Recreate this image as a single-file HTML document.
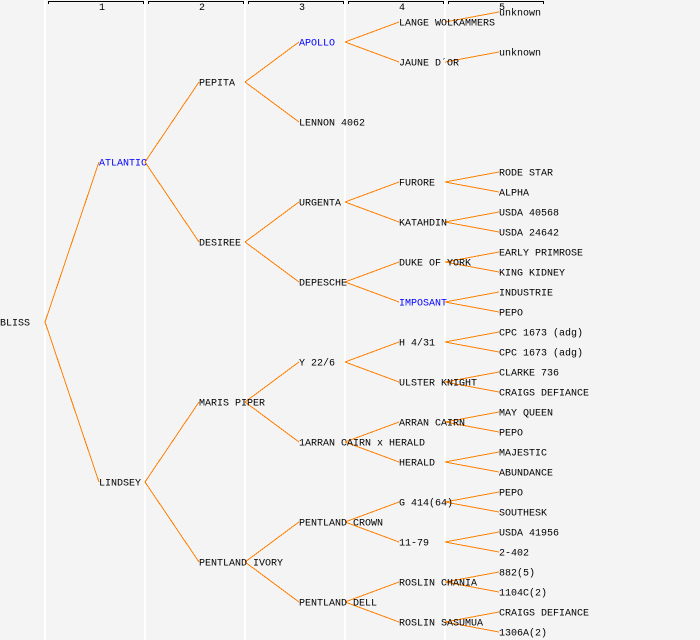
<!DOCTYPE html>
<html><head><meta charset="utf-8"><style>
html,body{margin:0;padding:0;background:#f4f4f4;}
svg{display:block;}
text{font-family:"Liberation Mono","DejaVu Sans Mono",monospace;font-size:10px;fill:#000;}
.b{fill:#0000ff;}
.n{font-size:10px;}
</style></head><body>
<svg width="700" height="640" xmlns="http://www.w3.org/2000/svg">
<rect width="700" height="640" fill="#f4f4f4"/>
<g stroke="#ffffff" stroke-width="2">
<line x1="45" y1="0" x2="45" y2="640"/><line x1="145" y1="0" x2="145" y2="640"/><line x1="245" y1="0" x2="245" y2="640"/><line x1="345" y1="0" x2="345" y2="640"/><line x1="445" y1="0" x2="445" y2="640"/>
</g>
<g stroke="#000" stroke-width="1" fill="none">
<path d="M48.5 4V1.5H143.5V4"/><path d="M148.5 4V1.5H243.5V4"/><path d="M248.5 4V1.5H343.5V4"/><path d="M348.5 4V1.5H443.5V4"/><path d="M448.5 4V1.5H543.5V4"/>
</g>
<text class="n" x="99" y="10">1</text><text class="n" x="199" y="10">2</text><text class="n" x="299" y="10">3</text><text class="n" x="399" y="10">4</text><text class="n" x="499" y="10">5</text>
<g stroke="#ff8000" stroke-width="1" fill="none" shape-rendering="crispEdges">
<path d="M45 322L99 162M45 322L99 482"/>
<path d="M145 162L199 82M145 162L199 242M145 482L199 402M145 482L199 562"/>
<path d="M245 82L299 42M245 82L299 122M245 242L299 202M245 242L299 282M245 402L299 362M245 402L299 442M245 562L299 522M245 562L299 602"/>
<path d="M345 42L399 22M345 42L399 62M345 202L399 182M345 202L399 222M345 282L399 262M345 282L399 302M345 362L399 342M345 362L399 382M345 442L399 422M345 442L399 462M345 522L399 502M345 522L399 542M345 602L399 582M345 602L399 622"/>
<path d="M445 22L499 12M445 62L499 52M445 182L499 172M445 182L499 192M445 222L499 212M445 222L499 232M445 262L499 252M445 262L499 272M445 302L499 292M445 302L499 312M445 342L499 332M445 342L499 352M445 382L499 372M445 382L499 392M445 422L499 412M445 422L499 432M445 462L499 452M445 462L499 472M445 502L499 492M445 502L499 512M445 542L499 532M445 542L499 552M445 582L499 572M445 582L499 592M445 622L499 612M445 622L499 632"/>
</g>
<g transform="translate(0,-0.5)">
<text x="0" y="326">BLISS</text>
<text class="b" x="99" y="166">ATLANTIC</text><text x="99" y="486">LINDSEY</text>
<text x="199" y="86">PEPITA</text><text x="199" y="246">DESIREE</text><text x="199" y="406">MARIS PIPER</text><text x="199" y="566">PENTLAND IVORY</text>
<text class="b" x="299" y="46">APOLLO</text><text x="299" y="126">LENNON 4062</text><text x="299" y="206">URGENTA</text><text x="299" y="286">DEPESCHE</text><text x="299" y="366">Y 22/6</text><text x="299" y="446">1ARRAN CAIRN x HERALD</text><text x="299" y="526">PENTLAND CROWN</text><text x="299" y="606">PENTLAND DELL</text>
<text x="399" y="26">LANGE WOLKAMMERS</text><text x="399" y="66">JAUNE D´OR</text><text x="399" y="186">FURORE</text><text x="399" y="226">KATAHDIN</text><text x="399" y="266">DUKE OF YORK</text><text class="b" x="399" y="306">IMPOSANT</text><text x="399" y="346">H 4/31</text><text x="399" y="386">ULSTER KNIGHT</text><text x="399" y="426">ARRAN CAIRN</text><text x="399" y="466">HERALD</text><text x="399" y="506">G 414(64)</text><text x="399" y="546">11-79</text><text x="399" y="586">ROSLIN CHANIA</text><text x="399" y="626">ROSLIN SASUMUA</text>
<text x="499" y="16">unknown</text><text x="499" y="56">unknown</text>
<text x="499" y="176">RODE STAR</text><text x="499" y="196">ALPHA</text><text x="499" y="216">USDA 40568</text><text x="499" y="236">USDA 24642</text><text x="499" y="256">EARLY PRIMROSE</text><text x="499" y="276">KING KIDNEY</text><text x="499" y="296">INDUSTRIE</text><text x="499" y="316">PEPO</text><text x="499" y="336">CPC 1673 (adg)</text><text x="499" y="356">CPC 1673 (adg)</text><text x="499" y="376">CLARKE 736</text><text x="499" y="396">CRAIGS DEFIANCE</text><text x="499" y="416">MAY QUEEN</text><text x="499" y="436">PEPO</text><text x="499" y="456">MAJESTIC</text><text x="499" y="476">ABUNDANCE</text><text x="499" y="496">PEPO</text><text x="499" y="516">SOUTHESK</text><text x="499" y="536">USDA 41956</text><text x="499" y="556">2-402</text><text x="499" y="576">882(5)</text><text x="499" y="596">1104C(2)</text><text x="499" y="616">CRAIGS DEFIANCE</text><text x="499" y="636">1306A(2)</text>
</g>
</svg>
</body></html>
